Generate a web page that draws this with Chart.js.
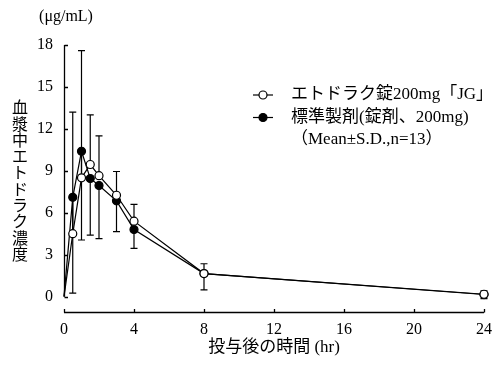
<!DOCTYPE html>
<html>
<head>
<meta charset="utf-8">
<script src="https://cdn.jsdelivr.net/npm/chart.js@4"></script>
<style>
  html, body { margin: 0; padding: 0; background: #fff; }
</style>
</head>
<body>
<canvas id="concChart" width="500" height="366"></canvas>
<script>
// 投与後の時間 (hr)
const hours = [0, 0.5, 1, 1.5, 2, 3, 4, 8, 24];
// エトドラク錠200mg「JG」 (open circles), SD drawn upward
const testMean = [0, 4.5, 8.5, 9.45, 8.65, 7.25, 5.4, 1.65, 0.17];
const testSD = [0, 8.7, 9.1, 3.55, 2.85, 1.7, 1.2, 0.7, 0.25];
// 標準製剤 (filled circles), SD drawn downward
const refMean = [0, 7.1, 10.4, 8.45, 7.95, 6.85, 4.8, 1.65, 0.15];
const refSD = [0, 6.85, 6.35, 4.05, 3.8, 2.2, 1.35, 1.17, 0.3];

const xTickValues = [0, 4, 8, 12, 16, 20, 24];
const yTickValues = [0, 3, 6, 9, 12, 15, 18];

const testLabel = 'エトドラク錠200mg「JG」';
const refLabel = '標準製剤(錠剤、200mg)';
const noteLabel = '（Mean±S.D.,n=13）';
const yTitle = '血漿中エトドラク濃度';
const unitLabel = '(μg/mL)';
const xTitle = '投与後の時間 (hr)';

const FONT = "'Liberation Serif', 'Noto Sans CJK JP', serif";
const INK = '#000';

const decor = {
  id: 'decor',
  beforeDraw(chart) {
    const ctx = chart.ctx;
    ctx.save();
    ctx.fillStyle = '#fff';
    ctx.fillRect(0, 0, chart.width, chart.height);
    ctx.restore();
  },
  beforeDatasetsDraw(chart) {
    const ctx = chart.ctx;
    const xs = chart.scales.x, ys = chart.scales.y;
    ctx.save();
    ctx.strokeStyle = INK;
    ctx.lineWidth = 1.2;
    const bar = (x, y0, y1) => {
      ctx.beginPath();
      ctx.moveTo(x, y0); ctx.lineTo(x, y1);
      ctx.moveTo(x - 3.5, y1); ctx.lineTo(x + 3.5, y1);
      ctx.stroke();
    };
    hours.forEach((h, i) => {
      const px = xs.getPixelForValue(h);
      if (testSD[i] > 0) bar(px, ys.getPixelForValue(testMean[i]), ys.getPixelForValue(testMean[i] + testSD[i]));
      if (refSD[i] > 0) bar(px, ys.getPixelForValue(refMean[i]), ys.getPixelForValue(refMean[i] - refSD[i]));
    });
    ctx.restore();
  },
  afterDraw(chart) {
    const ctx = chart.ctx;
    const xs = chart.scales.x, ys = chart.scales.y;
    const area = chart.chartArea;
    ctx.save();
    ctx.strokeStyle = INK;
    ctx.lineWidth = 1.3;

    // y axis: only from 0 to 18
    const x0 = Math.round(xs.getPixelForValue(0)) + 0.5;
    ctx.beginPath();
    ctx.moveTo(x0, ys.getPixelForValue(yTickValues[yTickValues.length - 1]));
    ctx.lineTo(x0, ys.getPixelForValue(0));
    yTickValues.forEach(v => {
      const py = Math.round(ys.getPixelForValue(v)) + 0.5;
      ctx.moveTo(x0, py); ctx.lineTo(x0 + 3.5, py);
    });
    ctx.stroke();

    // x axis, set below the chart
    const yb = Math.round(area.bottom) + 0.5;
    ctx.beginPath();
    ctx.moveTo(xs.getPixelForValue(0), yb);
    ctx.lineTo(xs.getPixelForValue(24), yb);
    xTickValues.forEach(v => {
      const px = Math.round(xs.getPixelForValue(v)) + 0.5;
      ctx.moveTo(px, yb); ctx.lineTo(px, yb - 3.5);
    });
    ctx.stroke();

    // vertical y title, one glyph per row
    ctx.fillStyle = INK;
    ctx.textAlign = 'center';
    ctx.textBaseline = 'middle';
    ctx.font = '16px ' + FONT;
    [...yTitle].forEach((ch, i) => ctx.fillText(ch, 20, 109 + i * 16.3));

    ctx.font = '16px ' + FONT;
    ctx.fillText(unitLabel, 66, 17);

    // legend
    ctx.textAlign = 'left';
    const rows = [
      { text: testLabel, fill: '#fff', y: 95 },
      { text: refLabel, fill: INK, y: 117.5 },
      { text: noteLabel, fill: null, y: 140 }
    ];
    rows.forEach(r => {
      if (r.fill) {
        ctx.lineWidth = 1.2;
        ctx.beginPath();
        ctx.moveTo(253, r.y); ctx.lineTo(273, r.y);
        ctx.stroke();
        ctx.beginPath();
        ctx.arc(263, r.y, 4, 0, Math.PI * 2);
        ctx.fillStyle = r.fill;
        ctx.fill();
        ctx.stroke();
      }
      ctx.fillStyle = INK;
      ctx.font = '17px ' + FONT;
      ctx.fillText(r.text, 291, r.y);
    });
    ctx.restore();
  }
};

const radii = hours.map(h => (h === 0 ? 0 : 4));

new Chart(document.getElementById('concChart'), {
  type: 'line',
  data: {
    datasets: [
      {
        label: testLabel,
        data: hours.map((h, i) => ({ x: h, y: testMean[i] })),
        borderColor: INK,
        borderWidth: 1.2,
        pointRadius: radii,
        pointBackgroundColor: '#fff',
        pointBorderColor: INK,
        pointBorderWidth: 1.2,
        tension: 0,
        clip: false
      },
      {
        label: refLabel,
        data: hours.map((h, i) => ({ x: h, y: refMean[i] })),
        borderColor: INK,
        borderWidth: 1.2,
        pointRadius: radii,
        pointBackgroundColor: INK,
        pointBorderColor: INK,
        pointBorderWidth: 1.2,
        tension: 0,
        clip: false
      }
    ]
  },
  options: {
    responsive: false,
    animation: false,
    devicePixelRatio: 1,
    layout: {
      padding: { top: 45, right: 16, bottom: 0, left: 0 }
    },
    plugins: {
      legend: { display: false },
      tooltip: { enabled: false }
    },
    scales: {
      x: {
        type: 'linear',
        min: 0,
        max: 24,
        afterFit: s => { s.height = 54; },
        afterBuildTicks: s => { s.ticks = xTickValues.map(v => ({ value: v })); },
        grid: { display: false, drawTicks: false },
        border: { display: false },
        ticks: { color: INK, padding: 8, font: { family: FONT, size: 16 } },
        title: {
          display: true,
          text: xTitle,
          color: INK,
          padding: { top: 0, bottom: 8 },
          font: { family: FONT, size: 17 }
        }
      },
      y: {
        type: 'linear',
        min: -1.1,
        max: 18,
        afterFit: s => { s.width = 64; },
        afterBuildTicks: s => { s.ticks = yTickValues.map(v => ({ value: v })); },
        grid: { display: false, drawTicks: false },
        border: { display: false },
        ticks: { color: INK, padding: 11, font: { family: FONT, size: 16 } }
      }
    }
  },
  plugins: [decor]
});
</script>
</body>
</html>
